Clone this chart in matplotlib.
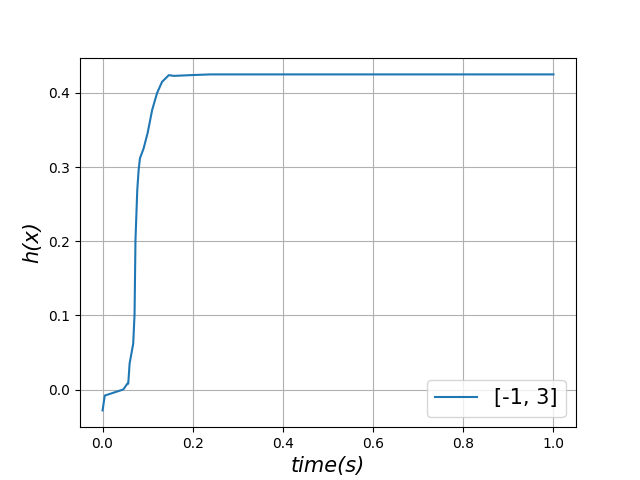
import matplotlib
matplotlib.use("Agg")
import matplotlib.pyplot as plt

t = [0.0, 0.005, 0.045, 0.047, 0.055, 0.057, 0.060, 0.068, 0.071, 0.073, 0.077,
     0.080, 0.083, 0.091, 0.100, 0.110, 0.121, 0.132, 0.147, 0.158, 0.195,
     0.239, 0.30, 0.5, 0.7, 1.0]
h = [-0.028, -0.008, 0.0, 0.001, 0.008, 0.008, 0.035, 0.062, 0.102, 0.201, 0.269,
     0.296, 0.312, 0.325, 0.346, 0.377, 0.400, 0.415, 0.424, 0.423, 0.424,
     0.425, 0.425, 0.425, 0.425, 0.425]

plt.figure(figsize=(6.4, 4.8), dpi=100)
plt.plot(t, h, label="[-1, 3]")
plt.xlabel("time(s)", fontsize=15, style="italic")
plt.ylabel("h(x)", fontsize=15, style="italic")
plt.grid(True)
plt.legend(loc="lower right", fontsize=15)
plt.savefig("out.png")
